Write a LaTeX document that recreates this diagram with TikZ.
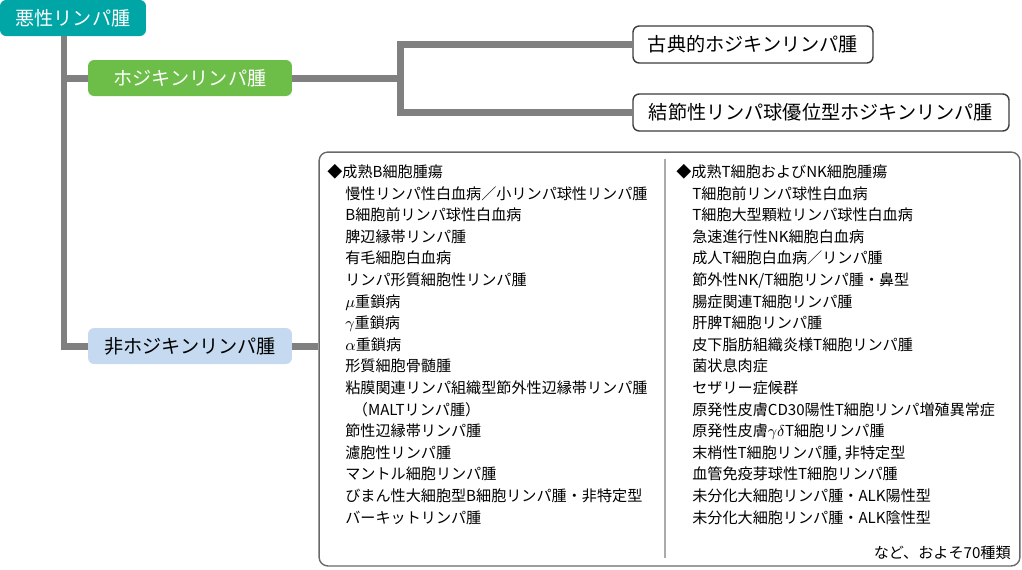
\documentclass[tikz,border=0pt]{standalone}
\usepackage{fontspec}
\setmainfont{Noto Sans CJK JP}
\usetikzlibrary{calc}
\definecolor{tealbox}{RGB}{0,165,166}
\definecolor{greenbox}{RGB}{108,190,72}
\definecolor{bluebox}{RGB}{197,218,240}
\definecolor{linegray}{RGB}{128,128,128}
\definecolor{framegray}{RGB}{105,105,105}
\definecolor{edgegray}{RGB}{60,60,60}

\begin{document}
\begin{tikzpicture}[x=0.02cm, y=-0.02cm]
    \tikzset{
        cat/.style={rectangle, rounded corners=3.5pt, minimum height=0.72cm, inner sep=0pt, font=\fontsize{10.9pt}{12pt}\selectfont},
        rootbox/.style={cat, fill=tealbox, text=white, minimum width=2.92cm},
        hlbox/.style={cat, fill=greenbox, text=white, minimum width=4.08cm},
        nhlbox/.style={cat, fill=bluebox, text=black, minimum width=4.08cm},
        leaf/.style={cat, draw=edgegray, fill=white, line width=0.8pt, minimum height=0.74cm},
        listbox/.style={draw=framegray, line width=0.8pt, rounded corners=5pt, minimum width=14.02cm, minimum height=8.28cm, inner sep=0pt},
        item/.style={anchor=base west, inner sep=0pt, font=\fontsize{8.6pt}{10pt}\selectfont},
        note/.style={item, anchor=base east},
        trunk/.style={draw=linegray, line width=0.14cm},
        divider/.style={draw=black!33, line width=0.6pt}
    }
    \useasboundingbox (0,0) rectangle (1022,569);

    % category boxes
    \node[rootbox] (malig) at (73,18) {悪性リンパ腫};
    \node[hlbox] (hodg) at (190,78) {ホジキンリンパ腫};
    \node[nhlbox] (nonhodg) at (190,346) {非ホジキンリンパ腫};
    \node[leaf, minimum width=4.8cm] (chl) at (753,44.5) {古典的ホジキンリンパ腫};
    \node[leaf, minimum width=7.52cm] (nlp) at (821,112.5) {結節性リンパ球優位型ホジキンリンパ腫};
    \node[listbox] (nhl) at (669.5,359) {};
    \draw[divider] (665,159) -- (665,558);

    % tree lines
    \coordinate (root) at (64,36);
    \coordinate (hj) at (400,78);
    \path[trunk] (root) |- (nonhodg.west);
    \path[trunk] (root |- hodg.west) -- (hodg.west);
    \path[trunk] (hodg.east) -- (hj);
    \path[trunk] (chl.west) -| (hj) |- (nlp.west);
    \path[trunk] (nonhodg.east) -- (nonhodg.east -| nhl.west);

    % mature B-cell neoplasms
    \node[item] (bhead) at (327,177.5) {◆成熟B細胞腫瘍};
    \foreach \txt [count=\i] in {慢性リンパ性白血病／小リンパ球性リンパ腫, B細胞前リンパ球性白血病, 脾辺縁帯リンパ腫, 有毛細胞白血病, リンパ形質細胞性リンパ腫, $\mu$重鎖病, $\gamma$重鎖病, $\alpha$重鎖病, 形質細胞骨髄腫, 粘膜関連リンパ組織型節外性辺縁帯リンパ腫, \hspace{0.5em}（MALTリンパ腫）, 節性辺縁帯リンパ腫, 濾胞性リンパ腫, マントル細胞リンパ腫, びまん性大細胞型B細胞リンパ腫・非特定型, バーキットリンパ腫}
        \node[item] (b\i) at (345,{177.5+21.6*\i}) {\txt};

    % mature T/NK-cell neoplasms
    \node[item] (thead) at (676,177.5) {◆成熟T細胞およびNK細胞腫瘍};
    \foreach \txt [count=\i] in {T細胞前リンパ球性白血病, T細胞大型顆粒リンパ球性白血病, 急速進行性NK細胞白血病, 成人T細胞白血病／リンパ腫, 節外性NK/T細胞リンパ腫・鼻型, 腸症関連T細胞リンパ腫, 肝脾T細胞リンパ腫, 皮下脂肪組織炎様T細胞リンパ腫, 菌状息肉症, セザリー症候群, 原発性皮膚CD30陽性T細胞リンパ増殖異常症, 原発性皮膚$\gamma\delta$T細胞リンパ腫, {末梢性T細胞リンパ腫, 非特定型}, 血管免疫芽球性T細胞リンパ腫, 未分化大細胞リンパ腫・ALK陽性型, 未分化大細胞リンパ腫・ALK陰性型}
        \node[item] (t\i) at (692,{177.5+21.6*\i}) {\txt};

    \node[note] (etc) at (1011,558.5) {など、およそ70種類};
\end{tikzpicture}
\end{document}
